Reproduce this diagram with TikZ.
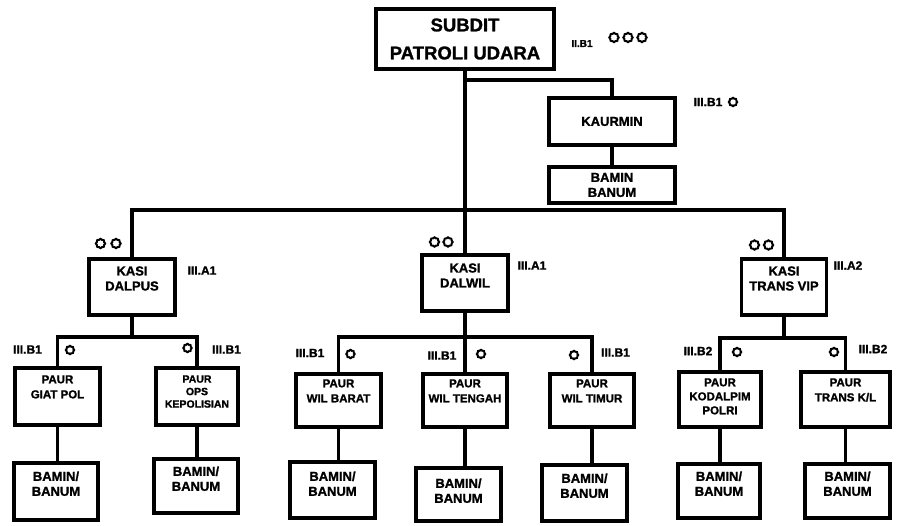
\documentclass[tikz,border=0pt]{standalone}
\usepackage{fontspec}
\setmainfont{Liberation Sans}[BoldFeatures={FakeBold=1.3}]
\begin{document}
\begin{tikzpicture}[x=1pt,y=-1pt,
  box/.style={draw, line width=3.6pt, rectangle, inner sep=0pt},
  conn/.style={line width=3.4pt},
  intext/.style={anchor=north, align=center, inner sep=0pt},
  fkasi/.style={font=\bfseries\fontsize{13}{15}\selectfont},
  fpaur/.style={font=\bfseries\fontsize{11.5}{15}\selectfont},
  fbamin/.style={font=\bfseries\fontsize{13}{15}\selectfont},
  lbl/.style={font=\bfseries\fontsize{12}{14}\selectfont, inner sep=0pt},
  cog/.pic={\draw[line width=1.9pt] plot[domain=0:360, samples=33] (\x:{4.3+0.45*cos(8*\x)}) -- cycle;}
]
\useasboundingbox (0,0) rectangle (897,525);

% ---------- head ----------
\node[box, minimum width=178pt, minimum height=60pt, align=center,
      font=\bfseries\fontsize{18.5}{28}\selectfont] (subdit) at (465,39) {SUBDIT\\PATROLI UDARA};
\node[lbl, font=\bfseries\fontsize{10}{11}\selectfont] (gsub) at (582,43.5) {II.B1};
\pic at (614,37.5) {cog};
\pic at (628,37.5) {cog};
\pic at (642,37.5) {cog};

% ---------- staff ----------
\node[box, minimum width=126pt, minimum height=47pt, fkasi] (kaurmin) at (612,121.5) {KAURMIN};
\node[box, minimum width=126pt, minimum height=36pt, fbamin, align=center] (bamin1) at (612,185) {BAMIN\\BANUM};
\node[lbl] (gkaur) at (708,102) {III.B1};
\pic[scale=0.9] at (733,102) {cog};

% ---------- sections ----------
\node[box, minimum width=86pt, minimum height=56pt] (dalpus) at (132,287) {};
\node[intext, fkasi] (tdalpus) at ([yshift=-9pt]dalpus.north) {KASI\\DALPUS};
\node[box, minimum width=86pt, minimum height=56pt] (dalwil) at (465,283) {};
\node[intext, fkasi] (tdalwil) at ([yshift=-10pt]dalwil.north) {KASI\\DALWIL};
\node[box, minimum width=85pt, minimum height=56pt] (transvip) at (784,287) {};
\node[intext, fkasi] (ttransvip) at ([yshift=-9pt]transvip.north) {KASI\\TRANS VIP};

\node[lbl] (gdalpus) at (202,270.5) {III.A1};
\pic at (100.5,243.5) {cog};
\pic at (116,243.5) {cog};
\node[lbl] (gdalwil) at (532,265.5) {III.A1};
\pic at (434.5,242) {cog};
\pic at (448,242) {cog};
\node[lbl] (gtransvip) at (848,265.5) {III.A2};
\pic at (754.5,245) {cog};
\pic at (768.5,245) {cog};

% ---------- sub-sections ----------
\node[box, minimum width=85pt, minimum height=57pt] (giat) at (57.5,396.5) {};
\node[intext, fpaur] (tgiat) at ([yshift=-9pt]giat.north) {PAUR\\GIAT POL};
\node[box, minimum width=82pt, minimum height=57pt] (ops) at (197,396.5) {};
\node[intext, font=\bfseries\fontsize{10.5}{12.5}\selectfont] (tops) at ([yshift=-9pt]ops.north) {PAUR\\OPS\\KEPOLISIAN};
\node[box, minimum width=85pt, minimum height=53pt] (barat) at (338.5,400.5) {};
\node[intext, fpaur] (tbarat) at ([yshift=-7pt]barat.north) {PAUR\\WIL BARAT};
\node[box, minimum width=84pt, minimum height=53pt] (tengah) at (465,400.5) {};
\node[intext, fpaur] (ttengah) at ([yshift=-7pt]tengah.north) {PAUR\\WIL TENGAH};
\node[box, minimum width=84pt, minimum height=53pt] (timur) at (592,400.5) {};
\node[intext, fpaur] (ttimur) at ([yshift=-7pt]timur.north) {PAUR\\WIL TIMUR};
\node[box, minimum width=82pt, minimum height=55pt] (kodal) at (720,399.5) {};
\node[intext, font=\bfseries\fontsize{11.5}{14}\selectfont] (tkodal) at ([yshift=-8pt]kodal.north) {PAUR\\KODALPIM\\POLRI};
\node[box, minimum width=89pt, minimum height=55pt] (transkl) at (845.5,399.5) {};
\node[intext, fpaur] (ttranskl) at ([yshift=-8pt]transkl.north) {PAUR\\TRANS K/L};

\node[lbl] (ggiat) at (27.5,349.5) {III.B1};
\pic[scale=0.9] at (70,350) {cog};
\node[lbl] (gops) at (226.5,349.5) {III.B1};
\pic[scale=0.9] at (187.5,348) {cog};
\node[lbl] (gbarat) at (310,353) {III.B1};
\pic[scale=0.9] at (350.5,354) {cog};
\node[lbl] (gtengah) at (442,355.5) {III.B1};
\pic[scale=0.9] at (481,354) {cog};
\node[lbl] (gtimur) at (615.5,352.5) {III.B1};
\pic[scale=0.9] at (574,355) {cog};
\node[lbl] (gkodal) at (698,351) {III.B2};
\pic[scale=0.9] at (737,352) {cog};
\node[lbl] (gtranskl) at (873,349) {III.B2};
\pic[scale=0.9] at (834,352) {cog};

% ---------- administration boxes ----------
\node[box, minimum width=84pt, minimum height=57pt] (bgiat) at (56,491.5) {};
\node[intext, fbamin] (tbgiat) at ([yshift=-10pt]bgiat.north) {BAMIN/\\BANUM};
\node[box, minimum width=84pt, minimum height=54pt] (bops) at (196,486) {};
\node[intext, fbamin] (tbops) at ([yshift=-9pt]bops.north) {BAMIN/\\BANUM};
\node[box, minimum width=85pt, minimum height=56pt] (bbarat) at (332.5,490) {};
\node[intext, fbamin] (tbbarat) at ([yshift=-11pt]bbarat.north) {BAMIN/\\BANUM};
\node[box, minimum width=85pt, minimum height=53pt] (btengah) at (458.5,494.5) {};
\node[intext, fbamin] (tbtengah) at ([yshift=-12pt]btengah.north) {BAMIN/\\BANUM};
\node[box, minimum width=85pt, minimum height=56pt] (btimur) at (584.5,493) {};
\node[intext, fbamin] (tbtimur) at ([yshift=-10pt]btimur.north) {BAMIN/\\BANUM};
\node[box, minimum width=82pt, minimum height=54pt] (bkodal) at (719,491) {};
\node[intext, fbamin] (tbkodal) at ([yshift=-9pt]bkodal.north) {BAMIN/\\BANUM};
\node[box, minimum width=85pt, minimum height=54pt] (btranskl) at (847.5,491) {};
\node[intext, fbamin] (tbtranskl) at ([yshift=-9pt]btranskl.north) {BAMIN/\\BANUM};

% ---------- connectors ----------
\coordinate (kb) at (465,80);
\coordinate (bus) at (465,210);
\coordinate (s1) at (132,337);
\coordinate (s2) at (465,337);
\coordinate (s3) at (784,338);

\draw[conn] (subdit.south) -- (dalwil.north);
\draw[conn] (kb) -| (kaurmin.north);
\draw[conn] (kaurmin.south) -- (bamin1.north);
\draw[conn] (dalpus.north) |- (bus) -| (transvip.north);

\draw[conn] (dalpus.south) -- (s1);
\draw[conn] (giat.north) |- (s1) -| (ops.north);
\draw[conn] (dalwil.south) -- (s2);
\draw[conn] (barat.north) |- (s2) -| (timur.north);
\draw[conn] (s2) -- (tengah.north);
\draw[conn] (transvip.south) -- (s3);
\draw[conn] (kodal.north) |- (s3) -| (transkl.north);

\draw[conn] (giat.south) -- (giat.south |- bgiat.north);
\draw[conn] (ops.south) -- (ops.south |- bops.north);
\draw[conn] (barat.south) -- (barat.south |- bbarat.north);
\draw[conn] (tengah.south) -- (tengah.south |- btengah.north);
\draw[conn] (timur.south) -- (timur.south |- btimur.north);
\draw[conn] (kodal.south) -- (kodal.south |- bkodal.north);
\draw[conn] (transkl.south) -- (transkl.south |- btranskl.north);
\end{tikzpicture}
\end{document}
